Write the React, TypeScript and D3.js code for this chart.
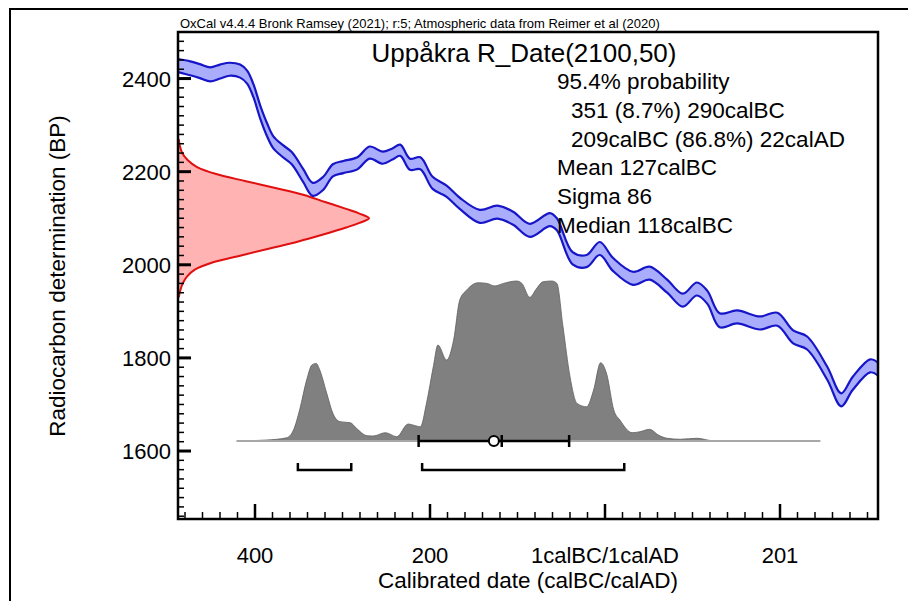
import * as d3 from "d3";

// calibration curve (IntCal20 atmospheric)
const calYears = [
  -488, -474, -463, -451, -440, -429, -417, -409, -402, -394,
  -386, -379, -368, -358, -345, -334, -322, -311, -299, -283,
  -269, -254, -243, -234, -223, -211, -197, -181, -166, -143,
  -123, -105, -86, -63, -55, -37, -21, -6, 9, 32,
  51, 71, 89, 105, 117, 131, 151, 177, 197, 215,
  231, 254, 270, 283, 303, 312,
];
const curveBP = [
  2428, 2422, 2416, 2409, 2415, 2420, 2416, 2403, 2375, 2328,
  2289, 2263, 2244, 2229, 2192, 2162, 2175, 2203, 2210, 2218,
  2241, 2230, 2238, 2246, 2216, 2218, 2176, 2158, 2132, 2104,
  2113, 2100, 2074, 2097, 2087, 2014, 2008, 2035, 2001, 1971,
  1982, 1954, 1924, 1948, 1930, 1881, 1888, 1875, 1883, 1845,
  1832, 1767, 1710, 1745, 1783, 1776,
];
const curveErr = [
  14, 15, 15, 15, 15, 14, 14, 14, 14, 14,
  14, 13, 13, 13, 14, 14, 14, 13, 13, 13,
  13, 13, 12, 12, 12, 13, 13, 12, 12, 14,
  14, 14, 14, 14, 13, 13, 13, 14, 14, 14,
  14, 14, 14, 14, 14, 15, 14, 14, 14, 14,
  14, 14, 14, 14, 14, 14,
];

// posterior (calibrated) distribution
const probYears = [
  -421, -387, -364, -356, -349, -341, -335, -330, -326, -318,
  -311, -303, -291, -284, -272, -265, -251, -238, -225, -217,
  -211, -204, -196, -191, -181, -173, -166, -158, -145, -135,
  -126, -116, -101, -95, -86, -78, -71, -61, -55, -48,
  -40, -32, -21, -13, -5, 2, 10, 17, 31, 40,
  51, 61, 71, 86, 105, 123, 246,
];
const probDensity = [
  0, 0.006, 0.02, 0.069, 0.194, 0.381, 0.475, 0.485, 0.444, 0.298,
  0.173, 0.121, 0.114, 0.079, 0.033, 0.031, 0.052, 0.027, 0.106, 0.096,
  0.089, 0.236, 0.471, 0.6, 0.506, 0.631, 0.881, 0.944, 0.989, 0.985,
  0.969, 0.985, 1.0, 0.985, 0.898, 0.954, 0.995, 1.0, 0.985, 0.714,
  0.402, 0.235, 0.214, 0.319, 0.489, 0.417, 0.194, 0.131, 0.052, 0.058,
  0.073, 0.037, 0.017, 0.011, 0.017, 0.002, 0,
];

// radiocarbon measurement R_Date(2100,50)
const rDateBP = [
  1930, 1945, 1960, 1975, 1990, 2005, 2020, 2035, 2050, 2065,
  2080, 2090, 2100, 2110, 2120, 2135, 2150, 2165, 2180, 2195,
  2210, 2225, 2240, 2255, 2270,
];
const rDateProb = [
  0.004, 0.012, 0.025, 0.048, 0.09, 0.18, 0.33, 0.48, 0.63, 0.76,
  0.88, 0.95, 1, 0.95, 0.88, 0.77, 0.66, 0.51, 0.35, 0.2,
  0.1, 0.05, 0.022, 0.01, 0.004,
];

const rangeStart = [-351, -209];
const rangeEnd = [-290, 22];
const meanYear = -127;
const sigmaYears = 86;
const medianYear = -118;

const xTickValues = [-400, -200, 0, 200];
const xTickLabels = ["400", "200", "1calBC/1calAD", "201"];
const yTickValues = [1600, 1800, 2000, 2200, 2400];

const header =
  "OxCal v4.4.4 Bronk Ramsey (2021); r:5; Atmospheric data from Reimer et al (2020)";
const title = "Uppåkra R_Date(2100,50)";
const summary = [
  { text: "95.4% probability", indent: false },
  { text: "351 (8.7%) 290calBC", indent: true },
  { text: "209calBC (86.8%) 22calAD", indent: true },
  { text: "Mean 127calBC", indent: false },
  { text: "Sigma 86", indent: false },
  { text: "Median 118calBC", indent: false },
];

const FONT = "Arial, 'Liberation Sans', sans-serif";

export default function App() {
  const left = 178,
    right = 878,
    top = 32,
    bottom = 519;
  const x = d3.scaleLinear().domain([-488, 312]).range([left, right]);
  const y = d3.scaleLinear().domain([1454, 2500]).range([bottom, top]);

  const curve = calYears.map((c, i) => ({ c, bp: curveBP[i], e: curveErr[i] }));
  const band = d3
    .area<any>()
    .x((d) => x(d.c))
    .y0((d) => y(d.bp - d.e))
    .y1((d) => y(d.bp + d.e))
    .curve(d3.curveCatmullRom);
  const upper = d3
    .line<any>()
    .x((d) => x(d.c))
    .y((d) => y(d.bp + d.e))
    .curve(d3.curveCatmullRom);
  const lower = d3
    .line<any>()
    .x((d) => x(d.c))
    .y((d) => y(d.bp - d.e))
    .curve(d3.curveCatmullRom);

  // R_Date on the y axis
  const rMax = 191;
  const rData = rDateBP.map((bp, i) => ({ bp, p: rDateProb[i] }));
  const rArea = d3
    .area<any>()
    .y((d) => y(d.bp))
    .x0(left)
    .x1((d) => left + d.p * rMax)
    .curve(d3.curveCatmullRom);
  const rLine = d3
    .line<any>()
    .y((d) => y(d.bp))
    .x((d) => left + d.p * rMax)
    .curve(d3.curveCatmullRom);

  // posterior
  const base = 441;
  const pMax = 160;
  const pData = probYears.map((c, i) => ({ c, p: probDensity[i] }));
  const pArea = d3
    .area<any>()
    .x((d) => x(d.c))
    .y0(base)
    .y1((d) => base - d.p * pMax)
    .curve(d3.curveMonotoneX);
  const pLine = d3
    .line<any>()
    .x((d) => x(d.c))
    .y((d) => base - d.p * pMax)
    .curve(d3.curveMonotoneX);

  const bracketY = 470;
  const xMinor = d3.range(-480, 301, 20);
  const yMinor = d3.range(1460, 2500, 20);

  return (
    <svg
      width={908}
      height={601}
      style={{ position: "absolute", left: 0, top: 0, background: "#fff" }}
      fontFamily={FONT}
    >
      <defs>
        <clipPath id="plot">
          <rect x={left} y={top} width={right - left} height={bottom - top} />
        </clipPath>
      </defs>
      <rect width={908} height={601} fill="#fff" />
      <path d="M10,620 V9 H920" fill="none" stroke="#000" strokeWidth={2} />

      <text x={180} y={28} fontSize={13}>
        {header}
      </text>

      <g clipPath="url(#plot)">
        <path d={rArea(rData) as string} fill="#ffb3b3" />
        <path d={rLine(rData) as string} fill="none" stroke="#e01010" strokeWidth={2} />

        <path d={band(curve) as string} fill="#a9adfb" />
        <path d={upper(curve) as string} fill="none" stroke="#1616c8" strokeWidth={2.2} />
        <path d={lower(curve) as string} fill="none" stroke="#1616c8" strokeWidth={2.2} />

        <path d={pArea(pData) as string} fill="#808080" />
        <path d={pLine(pData) as string} fill="none" stroke="#5e5e5e" strokeWidth={0.8} />
        <line
          x1={x(probYears[0])}
          x2={x(probYears[probYears.length - 1])}
          y1={base}
          y2={base}
          stroke="#a8a8a8"
          strokeWidth={2}
        />
      </g>

      {/* mean +/- sigma with median */}
      <g stroke="#000" strokeWidth={2.5} fill="none">
        <line x1={x(meanYear - sigmaYears)} x2={x(meanYear + sigmaYears)} y1={base} y2={base} />
        <line x1={x(meanYear - sigmaYears)} x2={x(meanYear - sigmaYears)} y1={base - 6} y2={base + 6} />
        <line x1={x(meanYear + sigmaYears)} x2={x(meanYear + sigmaYears)} y1={base - 6} y2={base + 6} />
        <line x1={x(medianYear)} x2={x(medianYear)} y1={base - 6} y2={base + 6} />
        <circle cx={x(meanYear)} cy={base} r={5} fill="#fff" strokeWidth={2} />
      </g>

      {/* 95.4% ranges */}
      <g stroke="#000" strokeWidth={2.5} fill="none">
        {rangeStart.map((s, i) => (
          <path
            key={i}
            d={`M${x(s)},${bracketY - 7} V${bracketY} H${x(rangeEnd[i])} V${bracketY - 7}`}
          />
        ))}
      </g>

      {/* axes */}
      <g stroke="#000">
        {yMinor.map((v) => {
          const major = v % 200 === 0;
          return (
            <line
              key={"y" + v}
              x1={left}
              x2={left + (major ? 13 : 6)}
              y1={y(v)}
              y2={y(v)}
              strokeWidth={major ? 3 : 1.5}
            />
          );
        })}
        {xMinor.map((v) => {
          const major = v % 200 === 0;
          return (
            <line
              key={"x" + v}
              x1={x(v)}
              x2={x(v)}
              y1={bottom}
              y2={bottom - (major ? 15 : 7)}
              strokeWidth={major ? 2.5 : 1.5}
            />
          );
        })}
      </g>
      <rect
        x={left}
        y={top}
        width={right - left}
        height={bottom - top}
        fill="none"
        stroke="#000"
        strokeWidth={2.5}
      />

      {yTickValues.map((v) => (
        <text key={v} x={171} y={y(v) + 8} fontSize={22} textAnchor="end">
          {v}
        </text>
      ))}
      {xTickValues.map((v, i) => (
        <text key={v} x={x(v)} y={563} fontSize={22} textAnchor="middle">
          {xTickLabels[i]}
        </text>
      ))}

      <text
        transform="translate(57,276) rotate(-90)"
        dy="0.35em"
        fontSize={22.5}
        textAnchor="middle"
      >
        Radiocarbon determination (BP)
      </text>
      <text x={(left + right) / 2} y={588} fontSize={22.5} textAnchor="middle">
        Calibrated date (calBC/calAD)
      </text>

      <text x={524} y={62} fontSize={26} textAnchor="middle">
        {title}
      </text>
      {summary.map((s, i) => (
        <text key={i} x={s.indent ? 571 : 557} y={89 + i * 28.8} fontSize={22.5}>
          {s.text}
        </text>
      ))}
    </svg>
  );
}
